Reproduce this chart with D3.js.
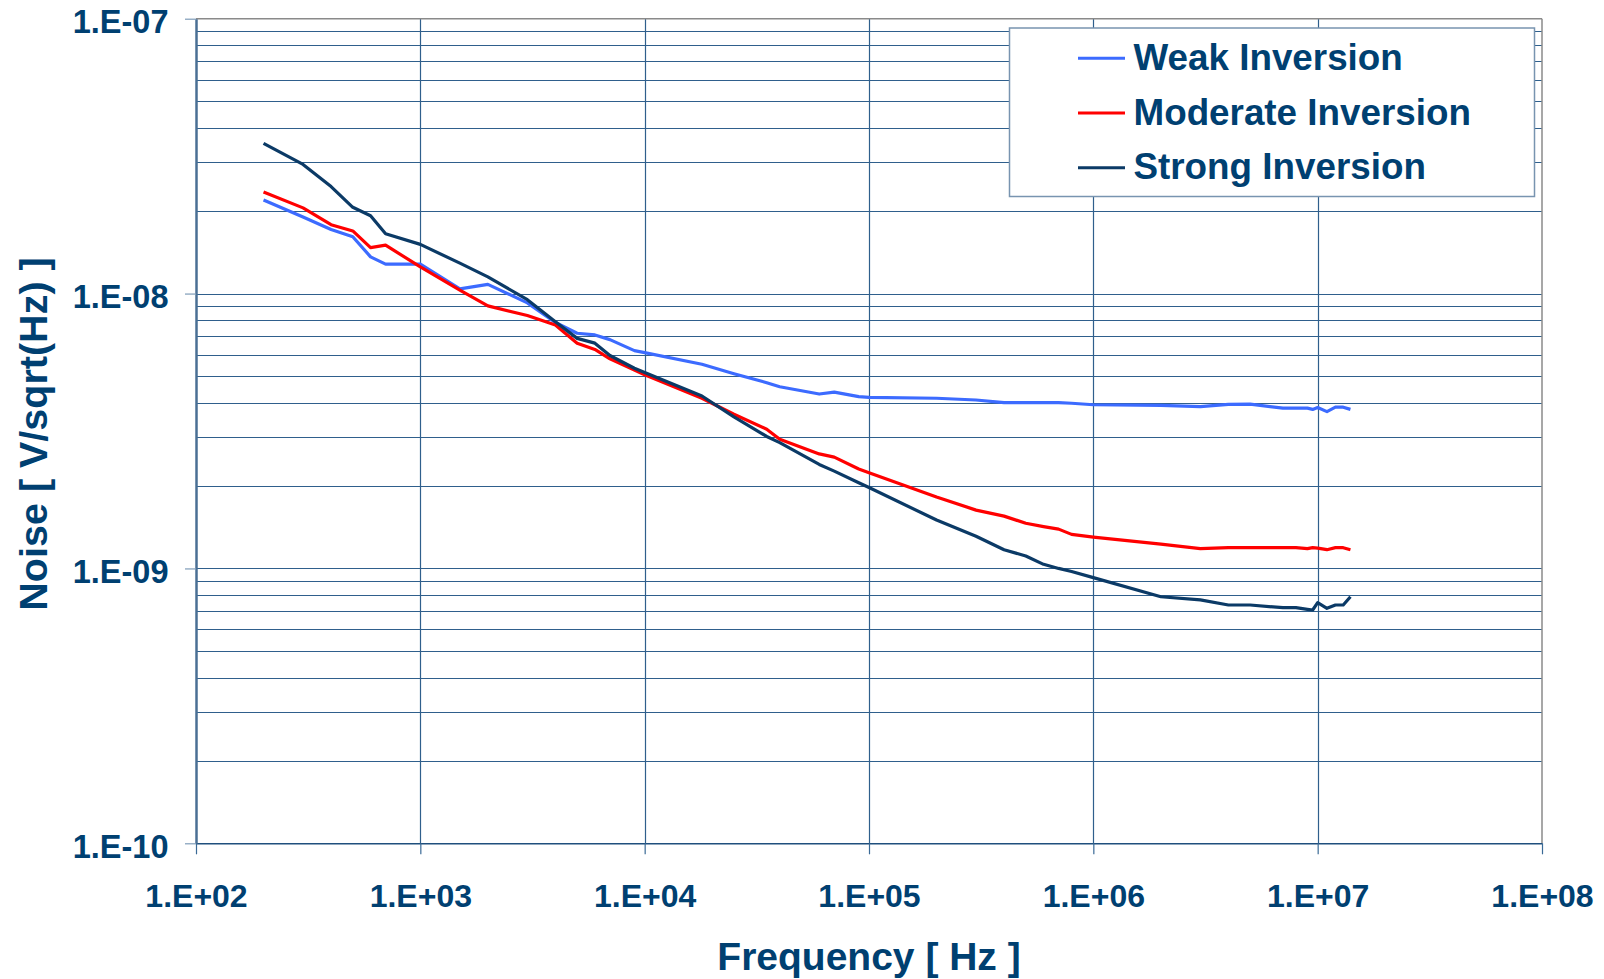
<!DOCTYPE html>
<html>
<head>
<meta charset="utf-8">
<script src="https://cdn.jsdelivr.net/npm/d3@7"></script>
<style>
  html, body { margin: 0; padding: 0; background: #ffffff; }
  svg { display: block; }
  text { font-family: "Liberation Sans", Arial, Helvetica, sans-serif; font-weight: bold; fill: #004071; }
</style>
</head>
<body>
<svg id="chart" width="1604" height="979"></svg>
<script>
// ---- data ----
const freqs = [200, 300, 400, 500, 600, 700, 1000, 1500, 2000, 3000, 4000, 5000, 6000, 7000, 9000,
  1e4, 1.8e4, 2.5e4, 3.5e4, 4e4, 6e4, 7e4, 9e4, 1e5, 2e5, 3e5, 4e5, 5e5, 6e5, 7e5, 8e5,
  1e6, 2e6, 3e6, 4e6, 5e6, 7e6, 8e6, 9e6, 9.5e6, 1e7, 1.1e7, 1.2e7, 1.3e7, 1.4e7];

const weakNoise = [2.19e-8, 1.90e-8, 1.71e-8, 1.61e-8, 1.36e-8, 1.28e-8, 1.28e-8, 1.04e-8, 1.08e-8, 9.25e-9, 7.85e-9, 7.17e-9, 7.07e-9, 6.8e-9, 6.2e-9,
  6.1e-9, 5.53e-9, 5.11e-9, 4.74e-9, 4.58e-9, 4.31e-9, 4.38e-9, 4.22e-9, 4.19e-9, 4.16e-9, 4.10e-9, 4.01e-9, 4.01e-9, 4.01e-9, 4.01e-9, 3.99e-9,
  3.94e-9, 3.92e-9, 3.88e-9, 3.95e-9, 3.96e-9, 3.83e-9, 3.83e-9, 3.83e-9, 3.79e-9, 3.85e-9, 3.72e-9, 3.86e-9, 3.86e-9, 3.79e-9];

const moderateNoise = [2.34e-8, 2.05e-8, 1.78e-8, 1.69e-8, 1.47e-8, 1.50e-8, 1.25e-8, 1.03e-8, 9.02e-9, 8.32e-9, 7.69e-9, 6.6e-9, 6.26e-9, 5.79e-9, 5.27e-9,
  5.06e-9, 4.16e-9, 3.64e-9, 3.21e-9, 2.95e-9, 2.61e-9, 2.54e-9, 2.30e-9, 2.23e-9, 1.82e-9, 1.63e-9, 1.55e-9, 1.46e-9, 1.42e-9, 1.39e-9, 1.33e-9,
  1.30e-9, 1.226e-9, 1.18e-9, 1.19e-9, 1.19e-9, 1.19e-9, 1.19e-9, 1.18e-9, 1.19e-9, 1.186e-9, 1.17e-9, 1.19e-9, 1.19e-9, 1.17e-9];

const strongNoise = [3.52e-8, 2.95e-8, 2.45e-8, 2.06e-8, 1.92e-8, 1.65e-8, 1.51e-8, 1.29e-8, 1.15e-8, 9.5e-9, 7.9e-9, 6.87e-9, 6.6e-9, 5.95e-9, 5.35e-9,
  5.16e-9, 4.24e-9, 3.56e-9, 3.02e-9, 2.87e-9, 2.39e-9, 2.26e-9, 2.05e-9, 1.97e-9, 1.50e-9, 1.31e-9, 1.17e-9, 1.11e-9, 1.035e-9, 1.0e-9, 9.75e-10,
  9.26e-10, 7.89e-10, 7.68e-10, 7.36e-10, 7.36e-10, 7.2e-10, 7.2e-10, 7.1e-10, 7.06e-10, 7.51e-10, 7.16e-10, 7.36e-10, 7.36e-10, 7.89e-10];

const seriesNames = ["Weak Inversion", "Moderate Inversion", "Strong Inversion"];
const seriesColors = ["#3c6bff", "#ff0000", "#0b3a66"];
const xTickValues = [1e2, 1e3, 1e4, 1e5, 1e6, 1e7, 1e8];
const yTickValues = [1e-10, 1e-9, 1e-8, 1e-7];
const xTitle = "Frequency [ Hz ]";
const yTitle = "Noise [ V/sqrt(Hz) ]";

// ---- layout ----
const L = 196, R = 1542, T = 18.7, B = 843.3;
const svg = d3.select("#chart");

const x = d3.scaleLog().domain([1e2, 1e8]).range([L, R]);
const y = d3.scaleLog().domain([1e-10, 1e-7]).range([B, T]);

function sci(d) {
  const e = Math.round(Math.log10(d));
  const s = e < 0 ? "-" : "+";
  return "1.E" + s + String(Math.abs(e)).padStart(2, "0");
}

// gridlines
const hGrid = [];
for (let e = -10; e < -7; e++) for (let k = 1; k <= 9; k++) hGrid.push(k * Math.pow(10, e));
const gGrid = svg.append("g");
gGrid.selectAll("line.h").data(hGrid).enter().append("line")
  .attr("x1", L).attr("x2", R)
  .attr("y1", d => Math.round(y(d)) + 0.5).attr("y2", d => Math.round(y(d)) + 0.5)
  .attr("stroke", "#2f5f8c").attr("stroke-width", 1.2);
gGrid.selectAll("line.v").data(xTickValues.slice(1, -1)).enter().append("line")
  .attr("y1", T).attr("y2", B)
  .attr("x1", d => Math.round(x(d)) + 0.5).attr("x2", d => Math.round(x(d)) + 0.5)
  .attr("stroke", "#2f5f8c").attr("stroke-width", 1.2);

// top & right border (grey)
svg.append("line").attr("x1", L).attr("x2", R).attr("y1", T).attr("y2", T)
  .attr("stroke", "#8a8a8a").attr("stroke-width", 1.5);
svg.append("line").attr("x1", R).attr("x2", R).attr("y1", T).attr("y2", B)
  .attr("stroke", "#8a8a8a").attr("stroke-width", 1.5);

// axes
const xAxis = d3.axisBottom(x).tickValues(xTickValues).tickFormat(sci).tickSize(11).tickSizeOuter(0);
const gx = svg.append("g").attr("transform", `translate(0,${B})`).call(xAxis);
gx.select(".domain").attr("stroke", "#1f4f7d").attr("stroke-width", 1.5);
gx.selectAll(".tick line").attr("stroke", "#3a6a96").attr("stroke-width", 1.2);
gx.selectAll(".tick text").attr("y", 63.4).attr("dy", null)
  .style("font-size", "32px").attr("fill", "#004071");

const yAxis = d3.axisLeft(y).tickValues(yTickValues).tickFormat(sci).tickSize(11).tickSizeOuter(0);
const gy = svg.append("g").attr("transform", `translate(${L},0)`).call(yAxis);
gy.select(".domain").attr("stroke", "#4a6f94").attr("stroke-width", 2.5);
gy.selectAll(".tick line").attr("stroke", "#7f9cb8").attr("stroke-width", 1.2);
gy.selectAll(".tick text").attr("x", -27.5).attr("dy", 14)
  .style("font-size", "32.5px").attr("fill", "#004071");

// series lines
const series = [weakNoise, moderateNoise, strongNoise];
const line = d3.line().x(d => x(d[0])).y(d => y(d[1]));
const gLines = svg.append("g");
series.forEach((vals, i) => {
  gLines.append("path")
    .datum(freqs.map((f, j) => [f, vals[j]]))
    .attr("d", line)
    .attr("fill", "none")
    .attr("stroke", seriesColors[i])
    .attr("stroke-width", 3.2)
    .attr("stroke-linejoin", "round");
});

// legend
const lg = svg.append("g");
lg.append("rect").attr("x", 1009.5).attr("y", 28).attr("width", 525).attr("height", 168.5)
  .attr("fill", "#ffffff").attr("stroke", "#7894b0").attr("stroke-width", 1.5);
seriesNames.forEach((name, i) => {
  const cy = 58.3 + i * 54.7;
  lg.append("line").attr("x1", 1078).attr("x2", 1125).attr("y1", cy).attr("y2", cy)
    .attr("stroke", seriesColors[i]).attr("stroke-width", 3);
  lg.append("text").attr("x", 1133.5).attr("y", cy + 11.7).style("font-size", "36.8px").text(name);
});

// axis titles
svg.append("text").attr("x", (L + R) / 2).attr("y", 970).attr("text-anchor", "middle")
  .style("font-size", "39px").text(xTitle);
svg.append("text").attr("transform", "translate(46.7,434) rotate(-90)").attr("text-anchor", "middle")
  .style("font-size", "39.5px").text(yTitle);
</script>
</body>
</html>
